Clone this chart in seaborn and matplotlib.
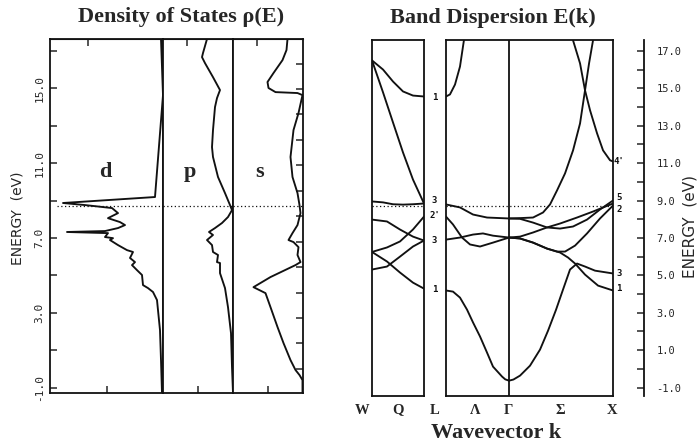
import matplotlib
matplotlib.use("Agg")
import matplotlib.pyplot as plt
import matplotlib.transforms as mtransforms
import seaborn as sns

# ---- density of states (energy in eV, DOS in arb. units)
d_energy = [17.64, 14.64, 9.19, 8.87, 8.76, 8.60, 8.33, 8.06, 7.85, 7.69, 7.53, 7.37, 7.32,
            7.26, 7.05, 6.99, 6.89, 6.62, 6.35, 6.25, 5.93, 5.71, 5.55, 5.28, 5.02, 4.48,
            4.32, 4.11, 3.68, 3.14, 2.07, 0.47, -1.29]
d_dos = [2, 0, 8, 100, 78, 51, 45, 55, 43, 38, 45, 58, 96,
         55, 58, 50, 53, 45, 36, 30, 33, 28, 31, 26, 21, 20,
         15, 10, 6, 5, 3, 2, 1]

p_energy = [17.64, 16.89, 16.67, 16.35, 15.6, 14.91, 14.48, 14.0, 12.77, 11.86, 11.33, 10.26,
            9.4, 8.76, 8.49, 8.12, 7.8, 7.53, 7.32, 7.16, 6.89, 6.62, 6.25, 6.09, 5.71, 5.66,
            5.12, 4.32, 3.3, 1.91, 0.1, -1.29]
p_dos = [26, 30, 31, 28, 20, 13, 16, 18, 20, 21, 20, 15,
         8, 3, 1, 5, 11, 18, 24, 20, 26, 21, 20, 15, 16, 13,
         13, 8, 5, 2, 1, 0]

s_energy = [17.64, 17.05, 16.51, 15.82, 15.34, 15.02, 14.8, 14.75, 14.64, 13.68, 12.77, 11.33,
            10.26, 9.4, 8.76, 8.33, 7.69, 7.26, 6.89, 6.78, 6.51, 6.09, 5.71, 5.55, 4.91, 4.37,
            4.05, 3.3, 2.24, 1.38, 0.47, -0.06, -0.33, -0.6, -1.29]
s_dos = [15, 16, 20, 29, 35, 34, 27, 5, 0, 4, 9, 12,
         10, 5, 3, 2, 5, 10, 14, 9, 4, 5, 2, 7, 32, 49,
         37, 32, 25, 19, 12, 7, 3, 0, 0]

fermi_level = 8.7

# ---- bands W -> L (k: W = 0, L = 1)
wl_k = [0, 0.212, 0.404, 0.596, 0.788, 1.0]
wl_k5 = [0, 0.288, 0.538, 0.788, 1.0]
wl_band_1a = [16.49, 16.0, 15.36, 14.83, 14.61, 14.56]
wl_band_1b = [16.49, 14.78, 13.17, 11.57, 10.12, 8.84]
wl_band_2 = [8.95, 8.9, 8.8, 8.78, 8.8, 8.84]
wl_band_3 = [7.98, 7.88, 7.45, 7.07, 6.86]
wl_band_4 = [6.25, 6.49, 6.81, 7.45, 8.14]
wl_band_5 = [6.25, 5.74, 5.15, 4.61, 4.29]
wl_band_6 = [5.31, 5.47, 6.0, 6.54, 6.86]

# ---- bands L -> Gamma -> X (k: L = 0, Gamma = 1, X = 2.65)
lg_top_k = [0, 0.063, 0.143, 0.222, 0.286, 0.31]
lg_top_e = [14.56, 14.67, 15.2, 16.16, 17.6, 18.3]
lg_a_k = [0, 0.222, 0.429, 0.651, 1.0]
lg_a_e = [8.79, 8.63, 8.25, 8.09, 8.04]
lg_b_k = [0, 0.111, 0.254, 0.381, 0.540, 0.746, 1.0]
lg_b_e = [8.14, 7.72, 7.02, 6.65, 6.54, 6.75, 7.02]
lg_c_k = [0, 0.222, 0.429, 0.587, 0.746, 1.0]
lg_c_e = [6.91, 7.02, 7.18, 7.24, 7.12, 7.02]
lg_d_k = [0, 0.111, 0.222, 0.333, 0.429, 0.540, 0.651, 0.746, 0.889, 0.94, 1.0]
lg_d_e = [4.19, 4.13, 3.81, 3.17, 2.48, 1.73, 0.87, 0.12, -0.41, -0.56, -0.63]

gx_s_k = [1.0, 1.07, 1.175, 1.333, 1.492, 1.619, 1.746, 1.857, 1.968, 2.079, 2.206, 2.365, 2.65]
gx_s_e = [-0.63, -0.57, -0.36, 0.17, 1.03, 2.04, 3.16, 4.24, 5.31, 5.63, 5.47, 5.25, 5.10]
gx_t_k = [1.0, 1.175, 1.381, 1.603, 1.810, 1.937, 2.048, 2.206, 2.413, 2.65]
gx_t_e = [7.02, 6.97, 6.75, 6.43, 6.22, 5.95, 5.63, 5.04, 4.45, 4.19]
gx_r_k = [1.0, 1.175, 1.381, 1.603, 1.762, 1.889, 2.048, 2.238, 2.444, 2.65]
gx_r_e = [7.02, 6.97, 6.75, 6.43, 6.27, 6.27, 6.59, 7.24, 8.04, 8.73]
gx_q_k = [1.0, 1.175, 1.381, 1.603, 1.810, 2.079, 2.333, 2.65]
gx_q_e = [7.02, 7.07, 7.29, 7.56, 7.77, 8.09, 8.41, 8.84]
gx_p_k = [1.0, 1.175, 1.381, 1.603, 1.810, 2.016, 2.238, 2.444, 2.65]
gx_p_e = [8.04, 8.02, 7.82, 7.56, 7.50, 7.61, 7.98, 8.52, 9.0]
gx_u_k = [1.0, 1.175, 1.381, 1.540, 1.651, 1.762, 1.889, 2.016, 2.127, 2.206, 2.270, 2.333, 2.37]
gx_u_e = [8.04, 8.06, 8.09, 8.36, 8.79, 9.54, 10.45, 11.68, 13.12, 14.89, 16.33, 17.56, 18.5]
gx_v_k = [1.98, 2.016, 2.127, 2.206, 2.286, 2.397, 2.492, 2.603, 2.65]
gx_v_e = [18.5, 17.56, 16.33, 14.89, 13.82, 12.59, 11.68, 11.15, 11.09]

# level labels at L and X
l_labels = ["1", "3", "2'", "3", "1"]
l_label_e = [14.5, 8.98, 8.2, 6.86, 4.26]
x_labels = ["4'", "5", "2", "3", "1"]
x_label_e = [11.1, 9.15, 8.5, 5.1, 4.3]

k_point_labels = ["W", "Q", "L", "Λ", "Γ", "Σ", "X"]
k_point_px = [362, 398, 435, 475, 508, 560, 612]

major_ticks = [-1, 3, 7, 11, 15]
minor_ticks = [1, 5, 9, 13, 17]
ry_ticks = [i * 1.3606 for i in range(13)]

sns.set_style("ticks")
plt.rcParams["axes.unicode_minus"] = False
plt.rcParams["font.family"] = ["DejaVu Sans"]

W, H = 700, 447
fig = plt.figure(figsize=(7, 4.47), dpi=100)


def box(x0, y0, x1, y1):
    return [x0 / W, 1 - y1 / H, (x1 - x0) / W, (y1 - y0) / H]


ink = "#111111"
lw = 1.35
serif = ["Liberation Serif", "DejaVu Serif"]
mono = ["DejaVu Sans Mono"]

# ---------------- density of states panels
ax_d = fig.add_axes(box(50, 39, 163, 393))
ax_p = fig.add_axes(box(163, 39, 233, 393))
ax_s = fig.add_axes(box(233, 39, 302.5, 393))
dos_sets = [(ax_d, d_dos, d_energy, 113), (ax_p, p_dos, p_energy, 70), (ax_s, s_dos, s_energy, 69.5)]
for ax, dos, en, width in dos_sets:
    sns.lineplot(x=dos, y=en, sort=False, estimator=None, ax=ax, color=ink, lw=lw)
    ax.set_xlim(width, 0)
    ax.set_ylim(-1.29, 17.64)
    ax.set_xticks([width / 2])
    ax.set_xticklabels([])
    ax.tick_params(axis="x", direction="in", length=5, width=1.1, top=False)
    ax.set_yticks([])
    ax.set_xlabel("")
    ax.set_ylabel("")
    for sp in ax.spines.values():
        sp.set_visible(True)
        sp.set_linewidth(1.3)
        sp.set_color(ink)
    ax.axhline(fermi_level, xmin=0.06 if ax is ax_d else 0, xmax=1, color=ink,
               lw=0.9, ls=(0, (1, 2)))
    top = ax.secondary_xaxis("top")
    top.set_xticks([width * 0.66])
    top.set_xticklabels([])
    top.tick_params(direction="in", length=5, width=1.1)

ax_d.set_yticks(major_ticks)
ax_d.set_yticks(minor_ticks, minor=True)
ax_d.set_yticklabels([f"{v:.1f}" for v in major_ticks], rotation=90, va="center",
                     family=mono, fontsize=8)
ax_d.tick_params(axis="y", which="both", direction="in", length=5, width=1.1, pad=4)
ax_s.yaxis.tick_right()
ax_s.set_yticks(ry_ticks)
ax_s.set_yticklabels([])
ax_s.tick_params(axis="y", direction="in", length=5, width=1.1)

for txt, xp in zip(["d", "p", "s"], [105, 190, 260]):
    fig.text(xp / W, 1 - 172 / H, txt, ha="center", va="center", family=serif,
             fontweight="bold", fontsize=16)
fig.text(18 / W, 1 - 218 / H, "ENERGY  (eV)", rotation=90, ha="center", va="center",
         fontsize=10)
fig.text(181 / W, 1 - 17 / H, "Density of States ρ(E)", ha="center", va="center",
         family=serif, fontweight="bold", fontsize=16)

# ---------------- band dispersion panels
band_ylim = (-1.45, 17.58)
ax_wl = fig.add_axes(box(372, 40, 424, 396))
ax_lx = fig.add_axes(box(446, 40, 613, 396))

for e in [wl_band_1a, wl_band_1b, wl_band_2]:
    sns.lineplot(x=wl_k, y=e, sort=False, estimator=None, ax=ax_wl, color=ink, lw=lw)
for e in [wl_band_3, wl_band_4, wl_band_5, wl_band_6]:
    sns.lineplot(x=wl_k5, y=e, sort=False, estimator=None, ax=ax_wl, color=ink, lw=lw)

lx_bands = [(lg_top_k, lg_top_e), (lg_a_k, lg_a_e), (lg_b_k, lg_b_e), (lg_c_k, lg_c_e),
            (lg_d_k, lg_d_e), (gx_s_k, gx_s_e), (gx_t_k, gx_t_e), (gx_r_k, gx_r_e),
            (gx_q_k, gx_q_e), (gx_p_k, gx_p_e), (gx_u_k, gx_u_e), (gx_v_k, gx_v_e)]
for k, e in lx_bands:
    sns.lineplot(x=k, y=e, sort=False, estimator=None, ax=ax_lx, color=ink, lw=lw)
ax_lx.axvline(1.0, color=ink, lw=1.3)

ax_wl.set_xlim(0, 1)
ax_lx.set_xlim(0, 2.65)
for ax in [ax_wl, ax_lx]:
    ax.set_ylim(*band_ylim)
    ax.set_xticks([])
    ax.set_yticks([])
    ax.set_xlabel("")
    ax.set_ylabel("")
    ax.axhline(fermi_level, color=ink, lw=0.9, ls=(0, (1, 2)))
    for sp in ax.spines.values():
        sp.set_visible(True)
        sp.set_linewidth(1.3)
        sp.set_color(ink)

# level labels
tr_wl = mtransforms.blended_transform_factory(ax_wl.transAxes, ax_wl.transData)
for txt, e in zip(l_labels, l_label_e):
    ax_wl.text(1.2, e, txt, transform=tr_wl, ha="center", va="center", family=mono,
               fontweight="bold", fontsize=6.5, color=ink)
tr_lx = mtransforms.blended_transform_factory(ax_lx.transAxes, ax_lx.transData)
for txt, e in zip(x_labels, x_label_e):
    ax_lx.text(1.035, e, txt, transform=tr_lx, ha="center", va="center", family=mono,
               fontweight="bold", fontsize=6.5, color=ink)

for txt, xp in zip(k_point_labels, k_point_px):
    fig.text(xp / W, 1 - 410 / H, txt, ha="center", va="center", family=serif,
             fontweight="bold", fontsize=10.5)
fig.text(496 / W, 1 - 433 / H, "Wavevector k", ha="center", va="center", family=serif,
         fontweight="bold", fontsize=16)
fig.text(493 / W, 1 - 18 / H, "Band Dispersion E(k)", ha="center", va="center",
         family=serif, fontweight="bold", fontsize=16)

# ---------------- detached energy scale on the right
ax_e = fig.add_axes(box(620, 40, 644, 396))
ax_e.patch.set_alpha(0)
ax_e.set_ylim(*band_ylim)
ax_e.set_xticks([])
for name in ["left", "top", "bottom"]:
    ax_e.spines[name].set_visible(False)
ax_e.spines["right"].set_linewidth(1.3)
ax_e.spines["right"].set_color(ink)
ax_e.yaxis.tick_right()
ax_e.set_yticks(major_ticks + minor_ticks)
ax_e.set_yticks(list(range(-1, 18)), minor=True)
ax_e.set_yticklabels([f"{v:.1f}" for v in major_ticks + minor_ticks], family=mono,
                     fontsize=7.5)
ax_e.tick_params(axis="y", which="both", direction="in", length=5, width=1.1, pad=9)
fig.text(690 / W, 1 - 227 / H, "ENERGY  (eV)", rotation=90, ha="center", va="center",
         fontsize=11)

fig.savefig("out.png", dpi=100)
